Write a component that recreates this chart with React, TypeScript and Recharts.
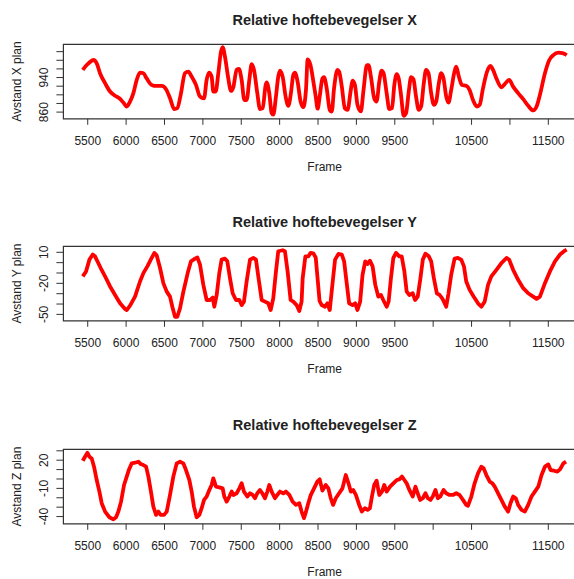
import { LineChart, Line, XAxis, YAxis, ReferenceArea } from "recharts"

// shared frame axis
const frameDomain = [5183, 11991]
const frameTicks = [5500, 6000, 6500, 7000, 7500, 8000, 8500, 9000, 9500, 10000, 10500, 11000, 11500]
const frameTicksUnlabelled = [10000, 11000]

// X plane
const framesX = [
  5435, 5487, 5552, 5574, 5617, 5660, 5726, 5791, 5856, 5912, 5964, 6008, 6051, 6095, 6138, 6181, 6225, 6268,
  6333, 6398, 6463, 6520, 6572, 6628, 6667, 6711, 6767, 6811, 6854, 6910, 6962, 7015, 7049, 7080, 7114, 7136,
  7167, 7201, 7236, 7258, 7288, 7331, 7366, 7397, 7440, 7470, 7505, 7540, 7570, 7605, 7635, 7666, 7709, 7744,
  7779, 7818, 7831, 7865, 7896, 7917, 7952, 7982, 8004, 8039, 8078, 8113, 8147, 8178, 8199, 8234, 8273, 8308,
  8343, 8365, 8400, 8440, 8470, 8495, 8522, 8557, 8578, 8613, 8653, 8679, 8709, 8753, 8775, 8810, 8849, 8884,
  8927, 8949, 8980, 9014, 9058, 9093, 9137, 9158, 9189, 9232, 9263, 9298, 9328, 9354, 9394, 9429, 9464, 9494,
  9525, 9551, 9581, 9616, 9647, 9682, 9712, 9743, 9777, 9812, 9843, 9878, 9908, 9939, 9974, 10009, 10039, 10074,
  10104, 10135, 10170, 10200, 10235, 10278, 10300, 10335, 10374, 10431, 10475, 10519, 10571, 10606, 10649, 10702,
  10745, 10780, 10824, 10889, 10933, 10990, 11042, 11107, 11173, 11238, 11303, 11347, 11391, 11456, 11513, 11565,
  11630, 11696, 11740,
]
const valuesX = [
  957.6, 969, 979, 980.6, 973, 950, 927, 907.6, 898, 892, 882, 873, 884.5, 904, 934.5, 951.5, 950, 938,
  923, 920.6, 920.6, 913, 892, 867, 869, 900, 950, 953.8, 942, 923, 896, 892, 934.5, 951.5, 942, 907.6,
  907.6, 950, 1000, 1010.5, 988, 938, 909, 918, 958, 960, 934.5, 888, 888, 934.5, 971, 957.6, 904, 867,
  869, 923, 928.5, 904, 857.6, 854, 896, 942, 956, 942, 896, 874.5, 904, 946, 951.5, 930.6, 884.5, 871.4,
  911.4, 982, 970, 930, 896, 868, 896, 938, 941, 915, 865, 861, 915, 957.6, 953.8, 919, 869, 865,
  911, 932.6, 923, 877, 861.5, 911.4, 969, 969, 942, 892, 884.5, 930.6, 956, 950, 904, 867, 869, 923,
  948, 938, 900, 851.6, 857.6, 907.6, 941, 936, 896, 865, 873, 927, 958, 950, 904, 877, 884.5, 927,
  950, 938, 896, 882, 911.4, 953.8, 965, 942, 923, 921, 911, 888, 873, 877, 915, 953.8,
  967, 957.6, 938, 917.6, 925, 934.5, 919, 904, 890, 874.5, 864, 873, 900, 950, 980.6, 992,
  997.6, 996, 992,
]
const domainX = [844.5, 1017]
const ticksX = [860, 880, 900, 920, 940, 960, 980, 1000]
const labelsX = [860, 940]

// Y plane
const framesY = [
  5435, 5478, 5522, 5565, 5595, 5626, 5669, 5726, 5791, 5856, 5921, 5986, 6008, 6051, 6116, 6181, 6225, 6277,
  6333, 6368, 6398, 6442, 6485, 6529, 6572, 6602, 6637, 6667, 6702, 6746, 6802, 6845, 6898, 6928, 6963, 7006,
  7049, 7093, 7128, 7149, 7180, 7214, 7244, 7288, 7318, 7353, 7388, 7431, 7475, 7505, 7535, 7570, 7614, 7657,
  7692, 7722, 7766, 7809, 7852, 7883, 7917, 7952, 7982, 8039, 8069, 8104, 8143, 8178, 8221, 8256, 8286, 8300,
  8335, 8374, 8404, 8438, 8470, 8500, 8520, 8548, 8591, 8622, 8653, 8687, 8722, 8766, 8810, 8840, 8871, 8905,
  8949, 8984, 9014, 9049, 9080, 9115, 9145, 9176, 9211, 9246, 9285, 9320, 9350, 9394, 9420, 9450, 9481, 9516,
  9559, 9590, 9625, 9655, 9690, 9734, 9764, 9799, 9834, 9865, 9900, 9943, 9974, 10009, 10048, 10083, 10118, 10140,
  10170, 10200, 10235, 10279, 10322, 10366, 10401, 10431, 10475, 10527, 10584, 10628, 10671, 10715, 10758, 10824,
  10889, 10955, 10990, 11042, 11107, 11173, 11238, 11303, 11347, 11391, 11456, 11521, 11587, 11652, 11717, 11739,
]
const valuesY = [
  -13.3, -8.5, 2.9, 7.8, 6.1, 1.3, -5.2, -13.3, -23, -31.2, -39.3, -44.8, -45.8, -41.6, -32.8, -18.2, -10.1, -3.6,
  4.5, 9.4, 7.1, -5.2, -19.8, -28, -32.8, -42.6, -52.3, -52.3, -44.2, -28, -10.1, 1.3, 3.9, 5.1, -2, -21.5,
  -36.1, -36.1, -33.8, -42.6, -31.2, -10.1, 2.9, 3.9, 1.3, -15, -29.6, -36.1, -36.1, -41, -37.7, -18.2, 2.9, 4.5,
  2.9, -13.3, -36.1, -37.7, -39.3, -45.8, -34.5, -8.5, 11, 12, 11, -8.5, -36.1, -37.7, -41, -46.8, -37.7, -15,
  6, 6.1, 9.4, 9, 5, -20, -37, -41, -42.6, -39.3, -45.8, -21.5, 2.9, 8.4, 7.8, 1.3, -18.2, -39.3,
  -41, -39.3, -45.8, -37.7, -11.7, 1.3, -1.3, 1.9, -3.6, -21.5, -32.8, -31.2, -36.1, -42.6, -37.7, -15, 4.5, 9.4,
  6.1, 6.1, -8.5, -28, -31.2, -29.6, -36.1, -32.8, -15, 2.9, 8.7, 6.1, 1.3, -15, -29.6, -31.2, -34.5, -37.7,
  -42.6, -29.6, -11.7, 3.9, 4.5, 2.9, -3.6, -18.2, -26.3, -32.8, -39.3, -42.6, -37.7, -21.5, -13.3, -6.9,
  -0.4, 4.5, 2.9, -6.9, -16.6, -24.7, -29.6, -32.8, -35, -32.8, -19.8, -8.5, 1.3, 7.8, 11.7, 12.6,
]
const domainY = [-56.2, 15.8]
const ticksY = [10, 0, -10, -20, -30, -40, -50]
const labelsY = [10, -20, -50]

// Z plane
const framesZ = [
  5435, 5465, 5496, 5522, 5552, 5582, 5617, 5652, 5682, 5726, 5782, 5834, 5869, 5899, 5934, 5973, 6008, 6038,
  6073, 6116, 6160, 6190, 6225, 6260, 6290, 6320, 6355, 6390, 6420, 6450, 6494, 6529, 6572, 6615, 6659, 6702,
  6746, 6780, 6824, 6854, 6884, 6919, 6954, 6984, 7015, 7049, 7084, 7114, 7136, 7171, 7214, 7258, 7279, 7310,
  7345, 7375, 7397, 7440, 7475, 7505, 7535, 7579, 7614, 7648, 7679, 7709, 7744, 7774, 7809, 7840, 7865, 7896,
  7939, 7969, 8004, 8047, 8082, 8126, 8169, 8213, 8256, 8286, 8317, 8343, 8373, 8404, 8448, 8491, 8522, 8557,
  8600, 8635, 8666, 8696, 8731, 8775, 8818, 8862, 8897, 8927, 8958, 8993, 9036, 9071, 9110, 9145, 9176, 9202,
  9232, 9263, 9298, 9333, 9363, 9394, 9438, 9481, 9525, 9559, 9594, 9625, 9655, 9690, 9734, 9769, 9799, 9830,
  9865, 9900, 9930, 9965, 9995, 10030, 10061, 10092, 10135, 10170, 10213, 10257, 10300, 10344, 10388, 10431, 10453, 10497,
  10540, 10584, 10628, 10658, 10693, 10737, 10772, 10802, 10846, 10889, 10933, 10977, 11007, 11042, 11077, 11107, 11151, 11194,
  11238, 11281, 11325, 11369, 11412, 11456, 11500, 11530, 11574, 11618, 11652, 11696, 11731,
]
const valuesZ = [
  19.4, 23.7, 27.9, 23.7, 21.9, 13.1, -1.1, -13.4, -25.8, -34.7, -40.7, -43, -40.7, -34.7, -24.1, -6.4, 2.5, 10.2,
  16.6, 17.3, 18.4, 15.9, 14.8, 13.1, 2.5, -11.7, -29.4, -38.2, -34.7, -38.2, -38.2, -34.7, -17, 2.5, 16.6, 18.4,
  16.6, 9.5, -1.1, -13.4, -29.4, -40.7, -38.2, -31.1, -22.3, -18.7, -11.7, -6.4, 0.7, -8.2, -8.9, -10, -18.7, -24.1,
  -18.7, -13.4, -17, -15.2, -10, -4.6, -13.4, -18.7, -15.2, -17, -20.5, -15.2, -11.7, -15.2, -20.5, -13.4, -6.4, -13.4,
  -20.5, -17, -13.4, -15.2, -13.4, -17, -24.1, -27.6, -25.8, -34.7, -41.7, -35, -25.8, -17.5, -10, -2.9, -0.4, -12.4,
  -6.4, -10, -20.5, -27.6, -20.5, -15.2, -10, 4.2, -4.6, -13.4, -11.7, -17, -27.6, -34.7, -31.1, -32.9, -31.1, -18.7,
  -6.4, -1.8, -17, -13.4, -6.4, -13.4, -8.2, -4.6, -1.1, -0.4, 2.5, -1.1, -4.6, -11.7, -18.7, -8.2, -15.2, -22.3,
  -20.5, -15.2, -20.5, -22.3, -18.7, -11.7, -20.5, -18.7, -11.7, -15.2, -17, -17, -15.2, -17, -22.3, -27.6, -28.6, -18.7,
  -4.6, 6, 13.1, 11.3, 4.2, -2.9, -4.6, -8.2, -15.2, -22.3, -29.4, -34.7, -25.8, -18.7, -20.5, -27.6, -32.9, -34.7,
  -27.6, -18.7, -13.4, -8.2, 4.2, 13.1, 15.5, 9.5, 8.8, 7.8, 10.2, 16.6, 18.4,
]
const domainZ = [-47.7, 31.6]
const ticksZ = [30, 20, 10, 0, -10, -20, -30, -40]
const labelsZ = [20, -10, -40]

const FONT = "'Liberation Sans', Arial, Helvetica, sans-serif"
const W = 600
const H = 203
const TOP = 44.3
const LEFT = 63.4
const RIGHT = 586
const PLOT_H = 74.5

function YTick(props: any) {
  const { x, y, payload, labels } = props
  if (!labels.includes(payload.value)) return <g />
  return (
    <text x={x} y={y} transform={`rotate(-90 ${x} ${y})`} textAnchor="middle" fontSize={12} fill="#222">
      {payload.value}
    </text>
  )
}

function Panel(props: any) {
  const { top, title, yTitle, frames, values, domain, ticks, labels, curve } = props
  const data = frames.map((f: number, i: number) => ({ frame: f, v: values[i] }))
  const cx = (LEFT + RIGHT) / 2
  const bottom = TOP + PLOT_H
  return (
    <div style={{ position: "absolute", left: 0, top, width: W, height: H }}>
      <LineChart width={W} height={H} data={data} margin={{ top: TOP, right: W - RIGHT, bottom: 0, left: LEFT - 40 }}>
        <XAxis
          dataKey="frame"
          type="number"
          domain={frameDomain}
          ticks={frameTicks}
          interval={0}
          allowDataOverflow
          axisLine={false}
          tickSize={6}
          tickMargin={12}
          tickLine={{ stroke: "#333" }}
          tick={{ fill: "#222", fontSize: 12 }}
          tickFormatter={(v: number) => (frameTicksUnlabelled.includes(v) ? "" : String(v))}
          height={H - TOP - PLOT_H}
        />
        <YAxis
          type="number"
          domain={domain}
          ticks={ticks}
          interval={0}
          allowDataOverflow
          axisLine={false}
          width={40}
          tickSize={7}
          tickMargin={8}
          tickLine={{ stroke: "#333" }}
          tick={(p: any) => <YTick {...p} labels={labels} />}
        />
        <ReferenceArea x1={frameDomain[0]} x2={frameDomain[1]} y1={domain[0]} y2={domain[1]} fill="none" stroke="#333" strokeWidth={1.2} />
        <Line dataKey="v" type={curve} stroke="#ff0000" strokeWidth={3.8} strokeLinejoin="round" dot={false} isAnimationActive={false} />
      </LineChart>
      <svg width={W} height={H} style={{ position: "absolute", left: 0, top: 0, pointerEvents: "none" }}>
        <text x={cx} y={TOP - 19.8} textAnchor="middle" fontSize={14.5} fontWeight="bold" fill="#222">
          {title}
        </text>
        <text x={cx} y={bottom + 52.5} textAnchor="middle" fontSize={12} fill="#222">
          Frame
        </text>
        <text
          x={21}
          y={TOP + PLOT_H / 2}
          transform={`rotate(-90 21 ${TOP + PLOT_H / 2})`}
          textAnchor="middle"
          fontSize={12}
          fill="#222"
        >
          {yTitle}
        </text>
      </svg>
    </div>
  )
}

export default function App() {
  return (
    <div
      style={{
        position: "absolute",
        left: 0,
        top: 0,
        width: 574,
        height: 579,
        overflow: "hidden",
        background: "#fff",
        fontFamily: FONT,
      }}
    >
      <Panel
        top={0}
        title="Relative hoftebevegelser X"
        yTitle="Avstand X plan"
        frames={framesX}
        values={valuesX}
        domain={domainX}
        ticks={ticksX}
        labels={labelsX}
        curve="monotone"
      />
      <Panel
        top={202.4}
        title="Relative hoftebevegelser Y"
        yTitle="Avstand Y plan"
        frames={framesY}
        values={valuesY}
        domain={domainY}
        ticks={ticksY}
        labels={labelsY}
        curve="linear"
      />
      <Panel
        top={405}
        title="Relative hoftebevegelser Z"
        yTitle="Avstand Z plan"
        frames={framesZ}
        values={valuesZ}
        domain={domainZ}
        ticks={ticksZ}
        labels={labelsZ}
        curve="linear"
      />
    </div>
  )
}
